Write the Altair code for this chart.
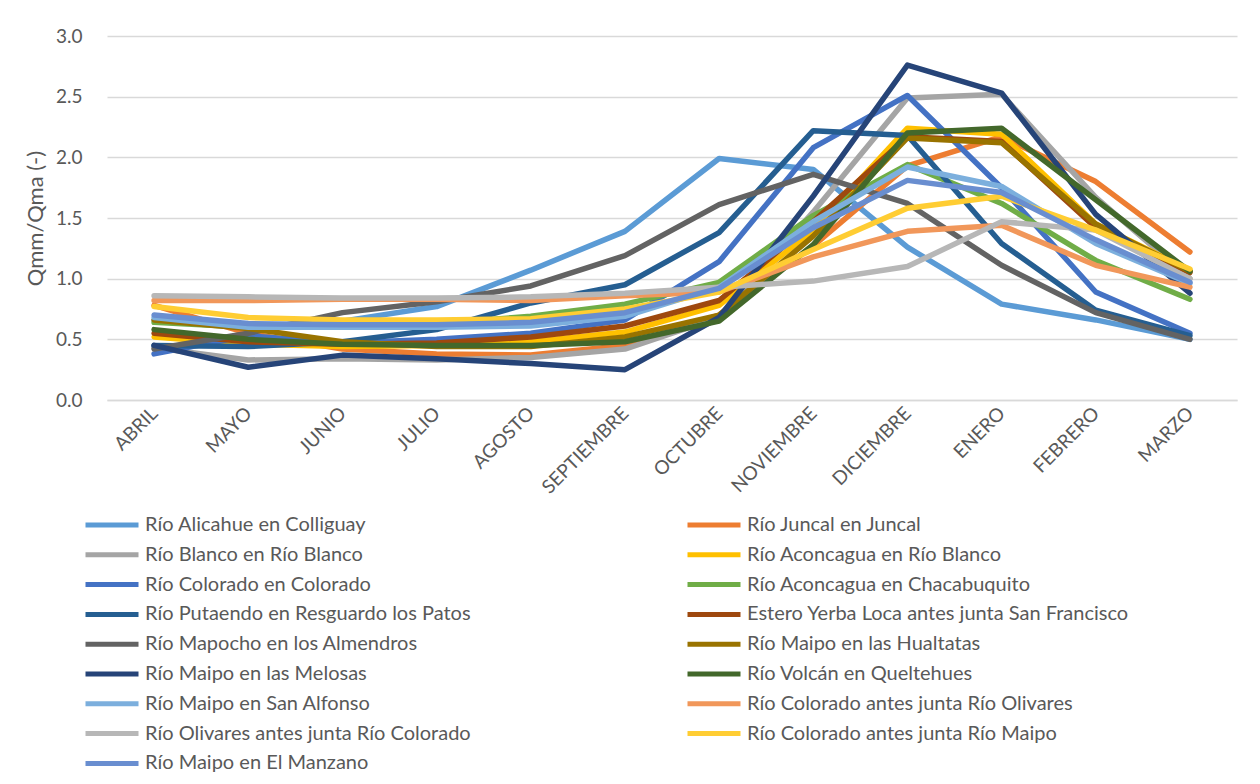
import altair as alt
import pandas as pd

meses = ["ABRIL", "MAYO", "JUNIO", "JULIO", "AGOSTO", "SEPTIEMBRE",
         "OCTUBRE", "NOVIEMBRE", "DICIEMBRE", "ENERO", "FEBRERO", "MARZO"]

series = [
    "Río Alicahue en Colliguay",
    "Río Juncal en Juncal",
    "Río Blanco en Río Blanco",
    "Río Aconcagua en Río Blanco",
    "Río Colorado en Colorado",
    "Río Aconcagua en Chacabuquito",
    "Río Putaendo en Resguardo los Patos",
    "Estero Yerba Loca antes junta San Francisco",
    "Río Mapocho en los Almendros",
    "Río Maipo en las Hualtatas",
    "Río Maipo en las Melosas",
    "Río Volcán en Queltehues",
    "Río Maipo en San Alfonso",
    "Río Colorado antes junta Río Olivares",
    "Río Olivares antes junta Río Colorado",
    "Río Colorado antes junta Río Maipo",
    "Río Maipo en El Manzano",
]

colores = ["#5B9BD5", "#ED7D31", "#A5A5A5", "#FFC000", "#4472C4", "#70AD47",
           "#255E91", "#9E480E", "#636363", "#997300", "#264478", "#43682B",
           "#7CAFDD", "#F1975A", "#B7B7B7", "#FFCD33", "#698ED0"]

alicahue = [0.66, 0.60, 0.65, 0.77, 1.07, 1.39, 1.99, 1.90, 1.26, 0.79, 0.66, 0.50]
juncal = [0.78, 0.55, 0.42, 0.38, 0.37, 0.45, 0.70, 1.27, 1.93, 2.17, 1.80, 1.22]
blanco = [0.43, 0.33, 0.34, 0.33, 0.35, 0.42, 0.68, 1.55, 2.49, 2.52, 1.67, 1.00]
aconc_blanco = [0.52, 0.46, 0.44, 0.45, 0.48, 0.56, 0.78, 1.40, 2.24, 2.19, 1.45, 1.07]
colorado = [0.38, 0.53, 0.47, 0.50, 0.55, 0.66, 1.14, 2.08, 2.51, 1.75, 0.89, 0.55]
chacabuquito = [0.64, 0.60, 0.61, 0.63, 0.69, 0.79, 0.97, 1.52, 1.94, 1.62, 1.15, 0.83]
putaendo = [0.45, 0.44, 0.48, 0.58, 0.80, 0.95, 1.38, 2.22, 2.18, 1.29, 0.74, 0.53]
yerba_loca = [0.55, 0.48, 0.46, 0.47, 0.52, 0.61, 0.82, 1.47, 2.17, 2.13, 1.42, 1.05]
mapocho = [0.42, 0.55, 0.72, 0.81, 0.94, 1.19, 1.61, 1.86, 1.62, 1.11, 0.72, 0.50]
hualtatas = [0.66, 0.59, 0.48, 0.44, 0.44, 0.52, 0.70, 1.35, 2.16, 2.12, 1.45, 1.06]
melosas = [0.45, 0.27, 0.37, 0.34, 0.30, 0.25, 0.68, 1.68, 2.76, 2.53, 1.53, 0.88]
volcan = [0.58, 0.50, 0.46, 0.45, 0.45, 0.48, 0.65, 1.28, 2.20, 2.24, 1.65, 1.06]
san_alfonso = [0.68, 0.60, 0.60, 0.60, 0.61, 0.69, 0.93, 1.47, 1.92, 1.76, 1.29, 0.96]
col_olivares = [0.82, 0.82, 0.83, 0.83, 0.82, 0.86, 0.89, 1.18, 1.39, 1.44, 1.11, 0.93]
olivares = [0.86, 0.85, 0.84, 0.84, 0.85, 0.88, 0.93, 0.98, 1.10, 1.47, 1.40, 1.00]
col_maipo = [0.77, 0.68, 0.66, 0.66, 0.67, 0.75, 0.89, 1.24, 1.58, 1.68, 1.40, 1.08]
manzano = [0.70, 0.63, 0.62, 0.62, 0.64, 0.72, 0.92, 1.42, 1.81, 1.71, 1.32, 0.97]

valores = [alicahue, juncal, blanco, aconc_blanco, colorado, chacabuquito,
           putaendo, yerba_loca, mapocho, hualtatas, melosas, volcan,
           san_alfonso, col_olivares, olivares, col_maipo, manzano]

rows = []
for s, vals in zip(series, valores):
    for m, v in zip(meses, vals):
        rows.append({"serie": s, "mes": m, "q": v})
df = pd.DataFrame(rows)

FONT = "Lato"
TXT = "#595959"

chart = alt.Chart(df).mark_line(
    strokeWidth=5.5, strokeJoin="round", strokeCap="round"
).encode(
    x=alt.X(
        "mes:N", sort=meses,
        scale=alt.Scale(type="point", padding=0.5),
        axis=alt.Axis(
            title=None, labelAngle=-45, labelAlign="right", labelBaseline="middle",
            labelPadding=10, labelFont=FONT, labelFontSize=19, labelColor=TXT,
            domain=True, domainColor="#D9D9D9", domainWidth=1.5,
            ticks=False, grid=False,
        ),
    ),
    y=alt.Y(
        "q:Q",
        scale=alt.Scale(domain=[0, 3]),
        axis=alt.Axis(
            title="Qmm/Qma (-)", values=[0, 0.5, 1, 1.5, 2, 2.5, 3], format=".1f",
            labelFont=FONT, labelFontSize=19, labelColor=TXT, labelPadding=25,
            titleFont=FONT, titleFontSize=22, titleFontWeight="normal", titleColor=TXT,
            titleX=-72, titleY=182, titleAngle=-90, titleAlign="center",
            titleBaseline="middle",
            domain=False, ticks=False, grid=True, gridColor="#D9D9D9", gridWidth=1.5,
        ),
    ),
    color=alt.Color(
        "serie:N", sort=series,
        scale=alt.Scale(domain=series, range=colores),
        legend=alt.Legend(
            title=None, orient="none", legendX=-24, legendY=478,
            direction="horizontal", columns=2, columnPadding=214, rowPadding=7.8,
            clipHeight=22, symbolType="stroke", symbolSize=2809,
            symbolStrokeWidth=5, labelFont=FONT, labelFontSize=20,
            labelColor=TXT, labelOffset=4, labelLimit=700, padding=0,
        ),
    ),
).properties(
    width=1130, height=364,
    padding={"left": 99, "top": 28, "right": 15, "bottom": 376},
    autosize=alt.AutoSizeParams(type="none"),
).configure_view(stroke=None)

chart.save("out.html", embed_options={"renderer": "svg", "actions": False})
